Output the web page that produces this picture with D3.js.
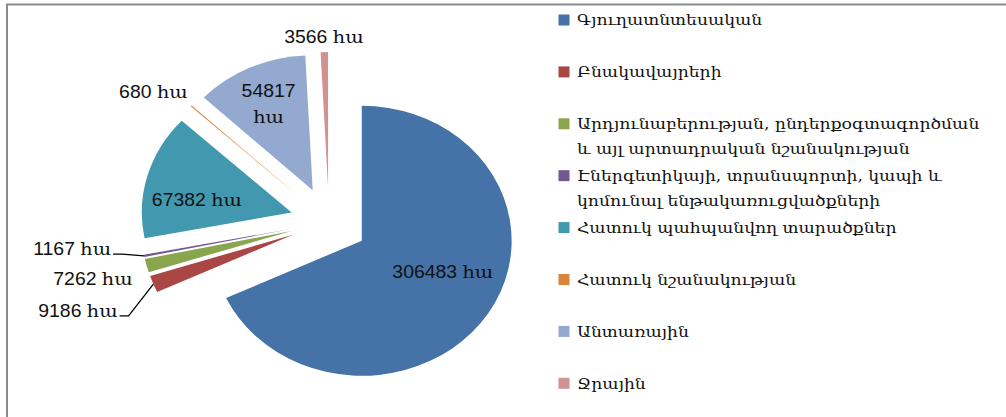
<!DOCTYPE html>
<html><head><meta charset="utf-8">
<script src="https://cdn.jsdelivr.net/npm/d3@7"></script>
<style>body{margin:0;background:#fff;} svg{display:block}</style>
</head><body>
<svg id="c" width="1006" height="417"></svg>
<script>
const categories = ["Գյուղատնտեսական","Բնակավայրերի","Արդյունաբերության, ընդերքօգտագործման և այլ արտադրական նշանակության","Էներգետիկայի, տրանսպորտի, կապի և կոմունալ ենթակառուցվածքների","Հատուկ պահպանվող տարածքներ","Հատուկ նշանակության","Անտառային","Ջրային"];
const legendLines = [["Գյուղատնտեսական"],["Բնակավայրերի"],["Արդյունաբերության, ընդերքօգտագործման","և այլ արտադրական նշանակության"],["Էներգետիկայի, տրանսպորտի, կապի և","կոմունալ ենթակառուցվածքների"],["Հատուկ պահպանվող տարածքներ"],["Հատուկ նշանակության"],["Անտառային"],["Ջրային"]];
const values = [306483,9186,7262,1167,67382,680,54817,3566];
const unit = "հա";
const colors = ["#4572A7","#AA4643","#89A54E","#71588F","#4198AF","#DB843D","#93A9CF","#D19392"];

// layout (not data)
const W = 1006, H = 417;
const cx = 329, cy = 222, R = 135, sx = 1.11, explode = 35;
const labelR  = [114, 243, 220, 233, 121, 205, 130, 185];
const labelDA = [-6.5, 0, 0, 4.8, -5.5, -3.6, 0, 0];
const leader  = [false, true, false, true, false, false, false, false];
const SANS = "'Liberation Sans', Arial, sans-serif";
const SERIF = "'DejaVu Serif', serif";

const svg = d3.select("#c");
svg.append("rect").attr("x", 7).attr("y", 4.5).attr("width", 1100).attr("height", 600)
  .attr("fill", "#fff").attr("stroke", "#8a8a8a").attr("stroke-width", 2);

const pie = d3.pie().sort(null).value(d => d)(values);
const arc = d3.arc().innerRadius(0).outerRadius(R);
const mid = d => (d.startAngle + d.endAngle) / 2;

const g = svg.append("g").attr("transform", `translate(${cx},${cy}) scale(${sx},1)`);
g.selectAll("path").data(pie).join("path")
  .attr("transform", d => `translate(${explode*Math.sin(mid(d))},${-explode*Math.cos(mid(d))})`)
  .attr("d", arc)
  .attr("fill", (d,i) => colors[i]);

// labels
const lab = svg.append("g");
pie.forEach((d, i) => {
  const a = mid(d) + labelDA[i] * Math.PI / 180;
  const x = cx + sx * labelR[i] * Math.sin(a);
  const y = cy - labelR[i] * Math.cos(a);
  const t = lab.append("text")
    .attr("transform", `translate(${x},${y}) scale(${sx},1)`)
    .attr("text-anchor", "middle")
    .attr("font-size", 17.5).attr("fill", "#111");
  if (i === 6) {
    t.append("tspan").attr("x", 0).attr("y", -13).attr("dy", "0.35em").attr("font-family", SANS).text(values[i]);
    t.append("tspan").attr("x", 0).attr("y", 13).attr("dy", "0.35em").attr("font-family", SERIF).text(unit);
  } else {
    t.attr("dy", "0.35em");
    t.append("tspan").attr("font-family", SANS).text(values[i] + (i === 0 ? "  " : " "));
    t.append("tspan").attr("font-family", SERIF).text(unit);
  }
  if (leader[i]) {
    const w = t.node().getBBox().width * sx;
    const right = x + w / 2 + 2;
    const ly = y + 5;
    const ma = mid(d);
    const ox = cx + sx * (explode + R) * Math.sin(ma);
    const oy = cy - (explode + R) * Math.cos(ma);
    svg.append("path")
      .attr("d", d3.line()([[ox, oy], [right + 9, ly], [right, ly]]))
      .attr("fill", "none").attr("stroke", "#000").attr("stroke-width", 1.3);
  }
});

// legend
const lg = svg.append("g");
const step = 51.9, ly0 = 20, lineH = 25;
legendLines.forEach((lines, i) => {
  const y = ly0 + step * i;
  lg.append("rect").attr("x", 558.5).attr("y", y - 5.5).attr("width", 11).attr("height", 11).attr("fill", colors[i]);
  lines.forEach((s, j) => {
    lg.append("text")
      .attr("transform", `translate(577,${y + j*lineH}) scale(${sx},1)`)
      .attr("dy", "0.35em").attr("font-family", SERIF).attr("font-size", 15.5).attr("fill", "#111")
      .text(s);
  });
});
</script>
</body></html>
